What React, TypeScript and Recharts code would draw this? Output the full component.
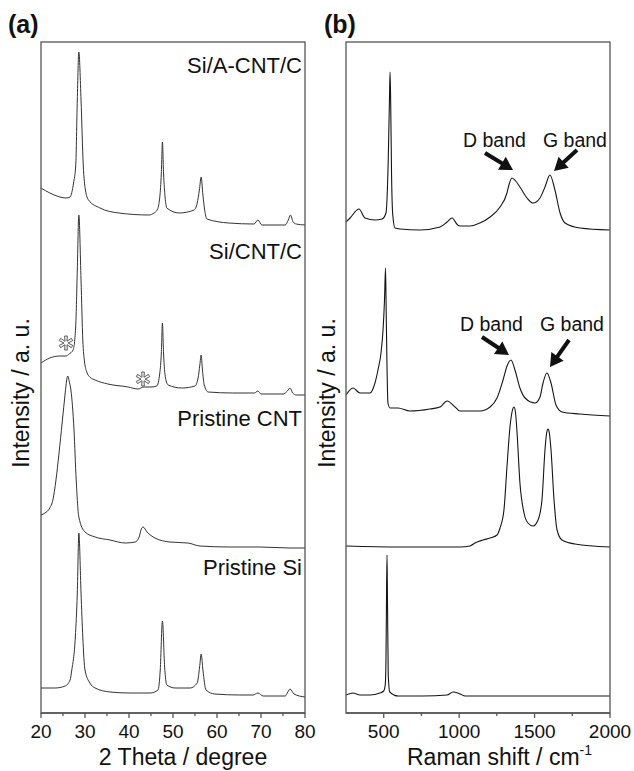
import { Line, LineChart, XAxis, YAxis } from "recharts";

// ---- XRD (panel a), 2θ in degrees, intensity in a.u. ----
const xrdSiACntTheta = [20.0, 22.0, 24.3, 25.7, 26.6, 27.4, 27.9, 28.25, 28.6, 29.1, 29.6, 30.1, 30.8, 33.4, 37.7, 44.5, 45.7, 46.4, 47.0, 47.35, 47.6, 47.85, 48.2, 48.6, 51.4, 54.8, 55.5, 56.0, 56.4, 56.8, 57.2, 57.7, 62.7, 68.4, 69.3, 70.2, 75.5, 76.2, 76.7, 77.3, 78.0, 80.0];
const xrdSiACntI = [45, 40, 36, 35, 36, 50, 68, 133, 181, 133, 68, 43, 33, 25, 20, 18, 20, 23, 36, 60, 91, 60, 36, 25, 20, 23, 30, 43, 56, 38, 23, 14, 10, 9, 13, 8, 8, 13, 18, 11, 9, 8];

const xrdSiCntTheta = [20.0, 22.0, 24.3, 25.7, 26.4, 27.3, 27.9, 28.25, 28.6, 29.1, 29.5, 29.9, 30.4, 31.1, 32.3, 35.2, 39.8, 42.0, 43.4, 45.0, 46.3, 47.0, 47.35, 47.6, 47.85, 48.3, 48.9, 52.0, 55.0, 55.7, 56.1, 56.4, 56.7, 57.1, 58.0, 63.6, 68.5, 69.3, 70.0, 75.0, 76.0, 76.6, 77.2, 78.0, 80.0];
const xrdSiCntI = [40, 45, 47, 47, 49, 53, 78, 133, 188, 123, 63, 41, 31, 26, 23, 19, 16, 14, 16, 16, 17, 30, 50, 80, 50, 25, 18, 15, 17, 25, 38, 48, 33, 18, 11, 10, 10, 12, 9, 9, 12, 15, 10, 8, 8];

const xrdCntTheta = [20.0, 20.9, 22.0, 22.7, 23.4, 24.1, 24.8, 25.5, 25.8, 26.1, 26.4, 26.8, 27.5, 28.0, 28.6, 30.0, 32.3, 35.7, 39.1, 41.4, 42.3, 42.8, 43.2, 44.1, 45.9, 49.3, 53.4, 56.1, 63.0, 69.8, 76.6, 80.0];
const xrdCntI = [38, 40, 45, 53, 73, 100, 130, 160, 172, 177, 172, 163, 123, 73, 36, 21, 16, 13, 10, 11, 16, 24, 26, 21, 15, 11, 10, 7, 6, 6, 5, 5];

const xrdSiTheta = [20.0, 23.2, 25.5, 26.6, 27.0, 27.8, 28.25, 28.6, 29.1, 29.5, 30.0, 31.1, 32.3, 35.7, 40.2, 44.8, 46.6, 47.1, 47.6, 48.1, 48.6, 50.5, 53.9, 55.5, 56.05, 56.4, 56.8, 57.5, 59.5, 65.2, 68.2, 69.3, 70.5, 75.5, 76.1, 76.6, 77.5, 80.0];
const xrdSiI = [25, 25, 27, 33, 43, 76, 120, 180, 120, 76, 43, 30, 25, 21, 20, 20, 23, 43, 92, 46, 28, 25, 25, 30, 46, 59, 43, 23, 19, 18, 18, 20, 17, 17, 21, 24, 19, 16];

// vertical stacking offsets (a.u.), top to bottom
const xrdOffsets = [480, 310, 160, 0];
const xrdLabels = ["Si/A-CNT/C", "Si/CNT/C", "Pristine CNT", "Pristine Si"];
const xrdTicks = [20, 25, 30, 35, 40, 45, 50, 55, 60, 65, 70, 75, 80];
const xrdMajor = [20, 30, 40, 50, 60, 70, 80];

// ---- Raman (panel b), shift in cm-1 ----
const ramSiACntShift = [250, 277, 336, 376, 442, 489, 515, 530, 538, 542, 546, 552, 560, 575, 608, 741, 873, 920, 953, 990, 1006, 1072, 1138, 1205, 1271, 1317, 1330, 1350, 1375, 1403, 1450, 1490, 1536, 1569, 1602, 1635, 1669, 1702, 1801, 2000];
const ramSiACntI = [21, 25, 34, 25, 23, 24, 30, 83, 143, 171, 143, 68, 28, 15, 14, 13, 16, 21, 25, 18, 17, 17, 20, 26, 36, 50, 58, 65, 62, 56, 45, 40, 45, 56, 68, 53, 30, 20, 15, 13];

const ramSiCntShift = [250, 296, 343, 409, 442, 462, 482, 495, 505, 512, 517, 522, 528, 542, 595, 674, 807, 873, 920, 973, 1006, 1138, 1205, 1251, 1291, 1320, 1344, 1370, 1403, 1437, 1503, 1536, 1556, 1582, 1609, 1642, 1682, 1801, 2000];
const ramSiCntI = [28, 35, 30, 30, 40, 53, 70, 92, 122, 155, 105, 55, 20, 15, 15, 12, 14, 16, 22, 16, 12, 12, 16, 25, 43, 58, 63, 53, 35, 25, 20, 26, 40, 50, 40, 18, 11, 9, 7];

const ramCntShift = [250, 600, 1006, 1072, 1105, 1158, 1205, 1251, 1271, 1297, 1317, 1337, 1352, 1364, 1374, 1384, 1403, 1430, 1456, 1490, 1523, 1549, 1569, 1580, 1589, 1598, 1609, 1629, 1649, 1682, 1768, 2000];
const ramCntI = [7, 6, 6, 7, 10, 13, 15, 18, 25, 43, 86, 126, 142, 146, 140, 120, 70, 40, 30, 27, 33, 53, 103, 120, 124, 120, 103, 53, 23, 13, 9, 6];

const ramSiShift = [250, 296, 343, 409, 475, 500, 510, 515, 519, 522, 525, 530, 540, 595, 760, 920, 960, 1006, 1040, 2000];
const ramSiI = [18, 20, 18, 18, 20, 22, 28, 53, 123, 158, 113, 38, 21, 17, 17, 18, 21, 19, 17, 17];

const ramOffsets = [470, 290, 160, 0];
const ramTicks = [500, 750, 1000, 1250, 1500, 1750, 2000];
const ramMajor = [500, 1000, 1500, 2000];

const FONT = '"Liberation Sans", Arial, Helvetica, sans-serif';
const INK = "#111";
const FRAME = "#555";
const H = 771;
const PLOT_TOP = 42;
const PLOT_BOTTOM = 713;
const Y_DOMAIN: [number, number] = [0, PLOT_BOTTOM - PLOT_TOP];
// recharts hands the tick its label anchor: axis + tickSize(6) + tickMargin(2)
const TICK_GAP = 8;

const toSeries = (xs: number[], ys: number[], offset: number) =>
  xs.map((x, i) => ({ x, y: ys[i] + offset }));

const xrdSeries = [
  toSeries(xrdSiACntTheta, xrdSiACntI, xrdOffsets[0]),
  toSeries(xrdSiCntTheta, xrdSiCntI, xrdOffsets[1]),
  toSeries(xrdCntTheta, xrdCntI, xrdOffsets[2]),
  toSeries(xrdSiTheta, xrdSiI, xrdOffsets[3]),
];
const ramSeries = [
  toSeries(ramSiACntShift, ramSiACntI, ramOffsets[0]),
  toSeries(ramSiCntShift, ramSiCntI, ramOffsets[1]),
  toSeries(ramCntShift, ramCntI, ramOffsets[2]),
  toSeries(ramSiShift, ramSiI, ramOffsets[3]),
];

function makeTick(majors: number[]) {
  return (props: any) => {
    const { x, y, payload } = props;
    const axisY = y - TICK_GAP;
    const major = majors.includes(payload.value);
    return (
      <g>
        <line x1={x} x2={x} y1={axisY} y2={axisY + (major ? 5 : 3)} stroke={FRAME} strokeWidth={1.3} />
        {major && (
          <text x={x} y={axisY + 25} textAnchor="middle" fontSize={19} fontFamily={FONT} fill={INK}>
            {payload.value}
          </text>
        )}
      </g>
    );
  };
}

type PanelProps = {
  width: number;
  left: number;
  right: number;
  domain: [number, number];
  ticks: number[];
  majors: number[];
  series: { x: number; y: number }[][];
  stroke: string;
  strokeWidth: number;
};

function Panel({ width, left, right, domain, ticks, majors, series, stroke, strokeWidth }: PanelProps) {
  const plotW = width - left - right;
  return (
    <div style={{ position: "relative", width, height: H }}>
      <LineChart width={width} height={H} margin={{ top: PLOT_TOP, right, bottom: H - PLOT_BOTTOM - 30, left }}>
        <XAxis
          type="number"
          dataKey="x"
          domain={domain}
          allowDataOverflow
          ticks={ticks}
          interval={0}
          tick={makeTick(majors)}
          tickLine={false}
          axisLine={{ stroke: FRAME, strokeWidth: 1.3 }}
          height={30}
        />
        <YAxis type="number" domain={Y_DOMAIN} allowDataOverflow hide />
        {series.map((d, i) => (
          <Line
            key={i}
            data={d}
            dataKey="y"
            type="monotone"
            dot={false}
            stroke={stroke}
            strokeWidth={strokeWidth}
            isAnimationActive={false}
          />
        ))}
      </LineChart>
      {/* plot frame */}
      <svg width={width} height={H} style={{ position: "absolute", left: 0, top: 0, pointerEvents: "none" }}>
        <rect x={left} y={PLOT_TOP} width={plotW} height={PLOT_BOTTOM - PLOT_TOP} fill="none" stroke={FRAME} strokeWidth={1.3} />
      </svg>
    </div>
  );
}

function Arrow({ x1, y1, x2, y2 }: { x1: number; y1: number; x2: number; y2: number }) {
  const L = Math.hypot(x2 - x1, y2 - y1);
  const ux = (x2 - x1) / L;
  const uy = (y2 - y1) / L;
  const nx = -uy;
  const ny = ux;
  const h = 13, hw = 7.5, sw = 2;
  const bx = x2 - ux * h;
  const by = y2 - uy * h;
  const pts = [
    [x1 + nx * sw, y1 + ny * sw],
    [bx + nx * sw, by + ny * sw],
    [bx + nx * hw, by + ny * hw],
    [x2, y2],
    [bx - nx * hw, by - ny * hw],
    [bx - nx * sw, by - ny * sw],
    [x1 - nx * sw, y1 - ny * sw],
  ];
  return <polygon points={pts.map((p) => p.join(",")).join(" ")} fill={INK} />;
}

function Asterisk({ cx, cy }: { cx: number; cy: number }) {
  const rOut = 7, rIn = 2, w = 2.6;
  const pts: number[][] = [];
  for (let k = 0; k < 6; k++) {
    const t = ((k * 60 - 90) * Math.PI) / 180;
    const ti = t - Math.PI / 6;
    pts.push([cx + rIn * Math.cos(ti), cy + rIn * Math.sin(ti)]);
    const px = -Math.sin(t), py = Math.cos(t);
    pts.push([cx + rOut * Math.cos(t) - (px * w) / 2, cy + rOut * Math.sin(t) - (py * w) / 2]);
    pts.push([cx + rOut * Math.cos(t) + (px * w) / 2, cy + rOut * Math.sin(t) + (py * w) / 2]);
  }
  return <polygon points={pts.map((p) => p.join(",")).join(" ")} fill="#fff" stroke="#444" strokeWidth={0.9} strokeLinejoin="round" />;
}

export default function App() {
  const labelY = [73, 259, 426, 575];
  return (
    <div style={{ position: "absolute", left: 0, top: 0, width: 634, height: H, background: "#fff" }}>
      <div style={{ position: "absolute", left: 0, top: 0 }}>
        <Panel width={320} left={41} right={15} domain={[20, 80]} ticks={xrdTicks} majors={xrdMajor} series={xrdSeries} stroke="#333" strokeWidth={1} />
      </div>
      <div style={{ position: "absolute", left: 310, top: 0 }}>
        <Panel width={324} left={36} right={24} domain={[250, 2000]} ticks={ramTicks} majors={ramMajor} series={ramSeries} stroke="#151515" strokeWidth={1.1} />
      </div>
      <svg width={634} height={H} style={{ position: "absolute", left: 0, top: 0, pointerEvents: "none" }} fontFamily={FONT} fill={INK}>
        <text x={8} y={33} fontSize={25} fontWeight="bold">(a)</text>
        <text x={324} y={33} fontSize={25} fontWeight="bold">(b)</text>

        <text transform="translate(28.5,393) rotate(-90)" textAnchor="middle" fontSize={23}>Intensity / a. u.</text>
        <text transform="translate(334.5,393) rotate(-90)" textAnchor="middle" fontSize={23}>Intensity / a. u.</text>

        <text x={183} y={765} textAnchor="middle" fontSize={23}>2 Theta / degree</text>
        <text x={407} y={765} fontSize={23}>
          Raman shift / cm<tspan fontSize={14} dy={-10}>-1</tspan>
        </text>

        {xrdLabels.map((t, i) => (
          <text key={t} x={302} y={labelY[i]} textAnchor="end" fontSize={22}>{t}</text>
        ))}

        <Asterisk cx={66} cy={343} />
        <Asterisk cx={143} cy={379} />

        <text x={463} y={147} fontSize={19.5}>D band</text>
        <text x={543} y={147} fontSize={19.5}>G band</text>
        <text x={460} y={331} fontSize={19.5}>D band</text>
        <text x={540} y={331} fontSize={19.5}>G band</text>
        <Arrow x1={485} y1={153} x2={513} y2={170} />
        <Arrow x1={577} y1={150} x2={554} y2={171} />
        <Arrow x1={482} y1={337} x2={509} y2={355} />
        <Arrow x1={569} y1={340} x2={550} y2={367} />
      </svg>
    </div>
  );
}
